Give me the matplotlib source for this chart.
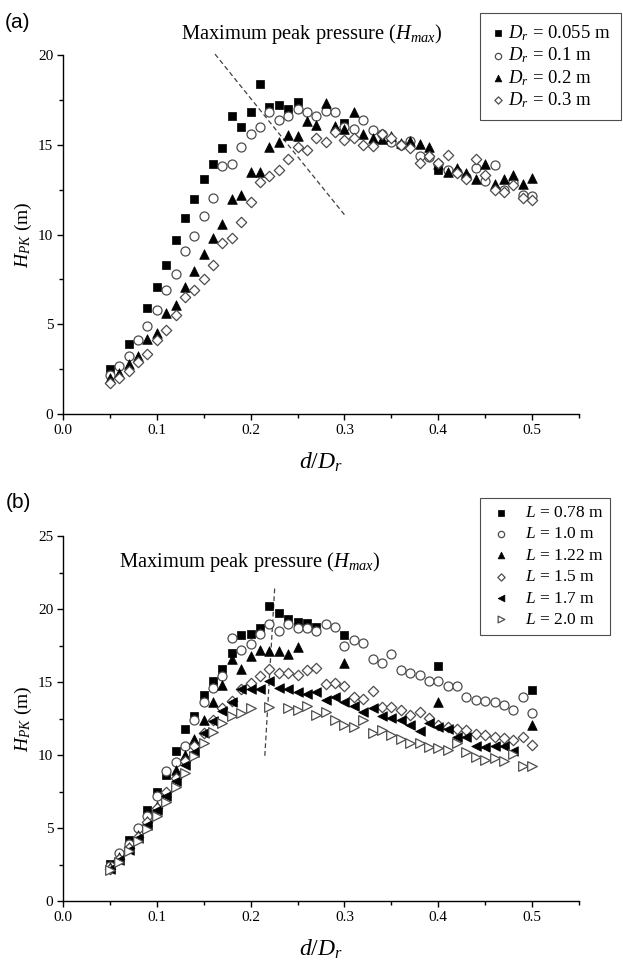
import matplotlib
matplotlib.use('Agg')
import matplotlib.pyplot as plt
from matplotlib.ticker import MultipleLocator

plt.rcParams['font.family'] = 'Liberation Serif'
plt.rcParams['mathtext.fontset'] = 'custom'
plt.rcParams['mathtext.rm'] = 'Liberation Serif'
plt.rcParams['mathtext.it'] = 'Liberation Serif:italic'

# ---------------- panel (a): effect of Dr ----------------
x_full = [0.05, 0.06, 0.07, 0.08, 0.09, 0.10, 0.11, 0.12, 0.13, 0.14, 0.15, 0.16,
          0.17, 0.18, 0.19, 0.20, 0.21, 0.22, 0.23, 0.24, 0.25, 0.26, 0.27, 0.28,
          0.29, 0.30, 0.31, 0.32, 0.33, 0.34, 0.35, 0.36, 0.37, 0.38, 0.39, 0.40,
          0.41, 0.42, 0.43, 0.44, 0.45, 0.46, 0.47, 0.48, 0.49, 0.50]

x_a_055 = [0.05, 0.07, 0.09, 0.10, 0.11, 0.12, 0.13, 0.14, 0.15, 0.16, 0.17, 0.18,
           0.19, 0.20, 0.21, 0.22, 0.23, 0.24, 0.25, 0.30, 0.40]
h_a_055 = [2.5, 3.9, 5.9, 7.05, 8.3, 9.7, 10.9, 12.0, 13.1, 13.9, 14.8, 16.6,
           16.0, 16.8, 18.4, 17.1, 17.2, 17.0, 17.4, 16.2, 13.6]

h_a_01 = [2.2, 2.7, 3.25, 4.1, 4.9, 5.8, 6.9, 7.8, 9.1, 9.9, 11.05, 12.05,
          13.8, 13.9, 14.9, 15.6, 16.0, 16.8, 16.4, 16.6, 17.0, 16.8, 16.6, 16.9,
          16.85, 16.0, 15.9, 16.4, 15.8, 15.6, 15.15, 15.0, 15.2, 14.4, 14.3, 13.9,
          13.6, 13.5, 13.2, 13.7, 13.0, 13.85, 12.5, 12.9, 12.2, 12.15]

h_a_02 = [2.0, 2.3, 2.8, 3.25, 4.2, 4.5, 5.65, 6.1, 7.1, 7.95, 8.9, 9.8,
          10.6, 12.0, 12.2, 13.5, 13.5, 14.9, 15.15, 15.55, 15.5, 16.3, 16.1, 17.3,
          16.05, 15.85, 16.85, 15.6, 15.4, 15.3, 15.5, 15.1, 15.2, 15.05, 14.9, 13.9,
          13.5, 13.7, 13.4, 13.1, 13.9, 12.8, 13.1, 13.3, 12.8, 13.15]

h_a_03 = [1.7, 2.0, 2.4, 2.9, 3.35, 4.1, 4.7, 5.5, 6.5, 6.9, 7.5, 8.3,
          9.5, 9.8, 10.7, 11.8, 12.9, 13.25, 13.6, 14.2, 14.9, 14.7, 15.4, 15.15,
          15.7, 15.25, 15.4, 15.0, 14.95, 15.6, 15.4, 15.0, 14.8, 14.0, 14.4, 14.0,
          14.45, 13.4, 13.1, 14.2, 13.3, 12.5, 12.35, 12.75, 12.05, 11.9]

# ---------------- panel (b): effect of L ----------------
x_b_078 = [0.05, 0.07, 0.09, 0.10, 0.11, 0.12, 0.13, 0.14, 0.15, 0.16, 0.17, 0.18,
           0.19, 0.20, 0.21, 0.22, 0.23, 0.24, 0.25, 0.26, 0.27, 0.30, 0.40, 0.50]
h_b_078 = [2.56, 4.16, 6.2, 7.5, 8.6, 10.3, 11.8, 12.7, 14.1, 15.1, 15.9, 17.0,
           18.2, 18.3, 18.7, 20.2, 19.7, 19.3, 19.1, 19.05, 18.8, 18.2, 16.1, 14.45]

h_b_10 = [2.4, 3.3, 3.9, 5.0, 5.8, 7.2, 8.9, 9.5, 10.6, 12.4, 13.6, 14.6,
          15.4, 18.0, 17.2, 17.6, 18.3, 18.95, 18.5, 18.95, 18.7, 18.7, 18.5, 19.0,
          18.8, 17.5, 17.9, 17.7, 16.6, 16.3, 16.9, 15.8, 15.6, 15.5, 15.05, 15.05,
          14.7, 14.7, 14.0, 13.8, 13.7, 13.65, 13.4, 13.05, 13.95, 12.9]

x_b_122 = [0.05, 0.06, 0.07, 0.08, 0.09, 0.10, 0.11, 0.12, 0.13, 0.14, 0.15, 0.16,
           0.17, 0.18, 0.19, 0.20, 0.21, 0.22, 0.23, 0.24, 0.25, 0.30, 0.40, 0.50]
h_b_122 = [2.3, 3.0, 3.7, 4.5, 5.5, 6.5, 7.5, 9.0, 10.0, 11.1, 12.4, 13.6,
           14.8, 16.6, 15.9, 16.8, 17.2, 17.1, 17.1, 16.95, 17.4, 16.3, 13.6, 12.05]

h_b_15 = [2.2, 2.9, 3.6, 4.4, 5.4, 6.4, 7.5, 8.4, 9.6, 10.6, 11.5, 12.4,
          13.2, 13.7, 14.5, 14.9, 15.4, 15.9, 15.6, 15.6, 15.5, 15.85, 15.95, 14.85,
          14.95, 14.7, 14.0, 13.85, 14.4, 13.3, 13.3, 13.05, 12.75, 12.95, 12.55, 12.05,
          11.95, 11.8, 11.7, 11.45, 11.35, 11.25, 11.15, 11.0, 11.25, 10.7]

x_b_17 = x_full[:44]
h_b_17 = [2.2, 2.8, 3.5, 4.3, 5.2, 6.2, 7.2, 8.2, 9.3, 10.2, 11.5, 12.3,
          13.0, 13.6, 14.55, 14.55, 14.55, 15.05, 14.6, 14.5, 14.3, 14.15, 14.3, 13.75,
          13.95, 13.65, 13.35, 12.95, 13.2, 12.65, 12.55, 12.4, 12.05, 11.65, 12.2, 11.9,
          11.8, 11.2, 11.25, 10.65, 10.55, 10.65, 10.65, 10.3]

x_b_20 = [0.05, 0.06, 0.07, 0.08, 0.09, 0.10, 0.11, 0.12, 0.13, 0.14, 0.15, 0.16,
          0.17, 0.18, 0.19, 0.20, 0.22, 0.24, 0.25, 0.26, 0.27, 0.28, 0.29, 0.30,
          0.31, 0.32, 0.33, 0.34, 0.35, 0.36, 0.37, 0.38, 0.39, 0.40, 0.41, 0.42,
          0.43, 0.44, 0.45, 0.46, 0.47, 0.48, 0.49, 0.50]
h_b_20 = [2.1, 2.7, 3.4, 4.1, 4.9, 5.8, 6.8, 7.8, 8.8, 9.9, 10.8, 11.6,
          12.2, 12.7, 12.9, 13.2, 13.3, 13.2, 13.1, 13.35, 12.75, 12.95, 12.4, 12.05,
          11.9, 12.4, 11.5, 11.7, 11.35, 11.1, 10.85, 10.8, 10.55, 10.45, 10.35, 10.8,
          10.2, 9.85, 9.65, 9.8, 9.6, 10.1, 9.25, 9.25]

labels_a = ['$D_r$ = 0.055 m', '$D_r$ = 0.1 m', '$D_r$ = 0.2 m', '$D_r$ = 0.3 m']
labels_b = ['$L$ = 0.78 m', '$L$ = 1.0 m', '$L$ = 1.22 m', '$L$ = 1.5 m',
            '$L$ = 1.7 m', '$L$ = 2.0 m']

# marker styles
filled = dict(facecolor='black', edgecolor='black', linewidths=0.5)
hollow = dict(facecolor='white', edgecolor='0.3', linewidths=0.9)
dash = (0, (3.8, 2.4))

W, H = 623, 967
fig = plt.figure(figsize=(W / 100, H / 100), dpi=100)


def make_axes(left, top, right, bottom):
    return fig.add_axes([left / W, 1 - bottom / H, (right - left) / W, (bottom - top) / H])


def style_axes(ax, ymax, ystep):
    ax.set_xlim(0, 0.55)
    ax.set_ylim(0, ymax)
    ax.spines['top'].set_visible(False)
    ax.spines['right'].set_visible(False)
    for s in ['left', 'bottom']:
        ax.spines[s].set_linewidth(1.0)
    ax.xaxis.set_major_locator(MultipleLocator(0.1))
    ax.xaxis.set_minor_locator(MultipleLocator(0.05))
    ax.yaxis.set_major_locator(MultipleLocator(ystep))
    ax.yaxis.set_minor_locator(MultipleLocator(ystep / 2))
    ax.xaxis.set_major_formatter(plt.FuncFormatter(lambda v, p: '%.1f' % v))
    ax.tick_params(which='major', direction='out', length=4, width=1.0, labelsize=11, pad=3)
    ax.tick_params(which='minor', direction='out', length=3, width=1.0)
    ax.set_xlabel('$d/D_r$', fontsize=17, labelpad=10)
    ax.set_ylabel('$H_{PK}$ (m)', fontsize=14, labelpad=3)


def add_legend(ax, right, top, size, hlen, gap, spacing, pad):
    leg = ax.legend(loc='upper right', bbox_to_anchor=(right / W, 1 - top / H),
                    bbox_transform=fig.transFigure, borderaxespad=0, fontsize=size,
                    markerscale=0.7, handletextpad=gap, handlelength=hlen,
                    labelspacing=spacing, borderpad=pad, fancybox=False,
                    edgecolor='0.3', framealpha=1)
    leg.get_frame().set_linewidth(0.8)


# ---- (a)
ax = make_axes(63, 55, 579, 414)
style_axes(ax, 20, 5)
ax.scatter(x_a_055, h_a_055, marker='s', s=38, label=labels_a[0], zorder=3, **filled)
ax.scatter(x_full, h_a_01, marker='o', s=42, label=labels_a[1], zorder=3, **hollow)
ax.scatter(x_full, h_a_02, marker='^', s=48, label=labels_a[2], zorder=3, **filled)
ax.scatter(x_full, h_a_03, marker='D', s=28, label=labels_a[3], zorder=3, **hollow)
ax.plot([0.162, 0.30], [20.05, 11.1], ls=dash, color='0.25', lw=0.9, clip_on=False)
fig.text(312 / W, 1 - 34 / H, 'Maximum peak pressure ($H_{max}$)',
         ha='center', va='center', fontsize=14.8)
fig.text(18 / W, 1 - 23 / H, '(a)', fontfamily='Liberation Sans', fontsize=15,
         ha='center', va='center')
add_legend(ax, 621, 13, 13.5, 0.8, 0.15, 0.14, 0.55)

# ---- (b)
bx = make_axes(63, 536, 579, 901)
style_axes(bx, 25, 5)
bx.scatter(x_b_078, h_b_078, marker='s', s=38, label=labels_b[0], zorder=3, **filled)
bx.scatter(x_full, h_b_10, marker='o', s=42, label=labels_b[1], zorder=3, **hollow)
bx.scatter(x_b_122, h_b_122, marker='^', s=48, label=labels_b[2], zorder=3, **filled)
bx.scatter(x_full, h_b_15, marker='D', s=28, label=labels_b[3], zorder=3, **hollow)
bx.scatter(x_b_17, h_b_17, marker='<', s=48, label=labels_b[4], zorder=3, **filled)
bx.scatter(x_b_20, h_b_20, marker='>', s=48, label=labels_b[5], zorder=3, **hollow)
bx.plot([0.2256, 0.2150], [21.4, 9.8], ls=dash, color='0.25', lw=0.9)
fig.text(250 / W, 1 - 562 / H, 'Maximum peak pressure ($H_{max}$)',
         ha='center', va='center', fontsize=14.8)
fig.text(18 / W, 1 - 503 / H, '(b)', fontfamily='Liberation Sans', fontsize=15,
         ha='center', va='center')
add_legend(bx, 610, 498, 12.5, 1.6, 0.58, 0.3, 0.4)

fig.savefig('out.png', dpi=100)
